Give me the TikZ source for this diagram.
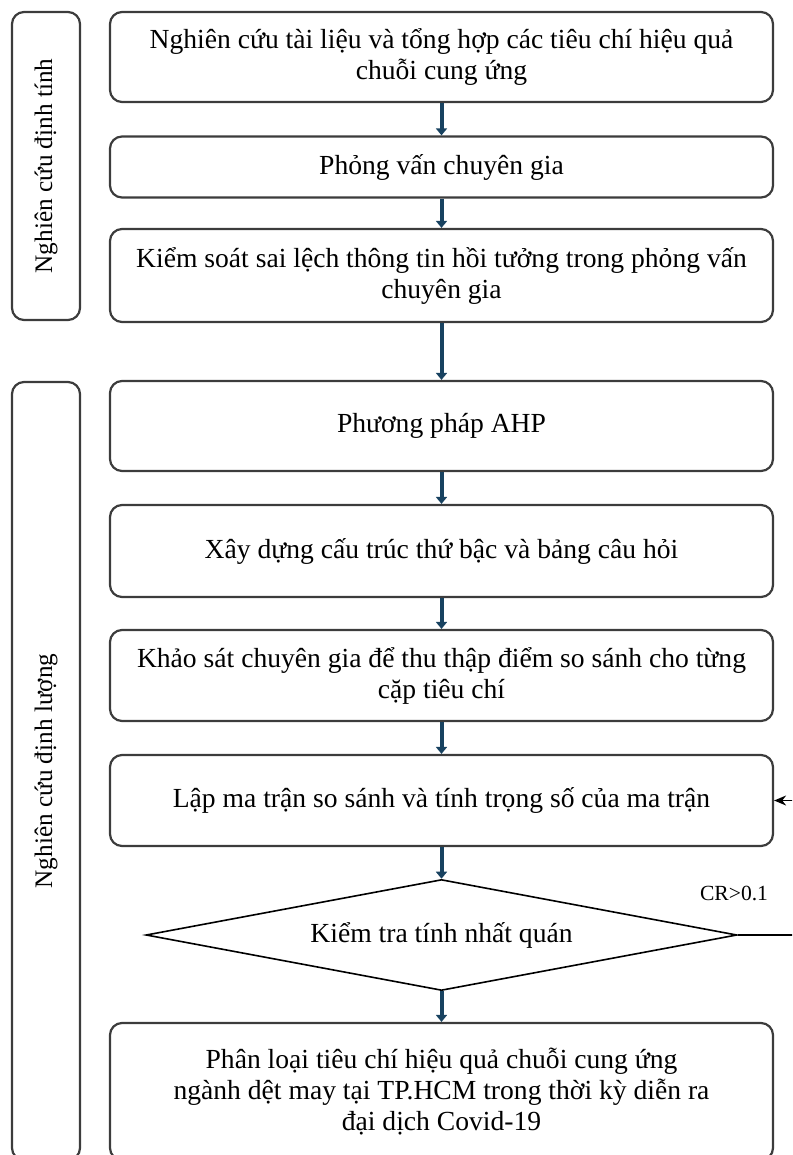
\documentclass[tikz,border=0pt]{standalone}
\usepackage{fontspec}
\setmainfont{Liberation Serif}
\usetikzlibrary{arrows.meta,shapes.geometric}

\definecolor{flowblue}{RGB}{24,66,96}
\definecolor{edgegray}{RGB}{60,60,60}

\begin{document}
\begin{tikzpicture}[x=0.5pt,y=-0.5pt,
  stagebox/.style={draw=edgegray,line width=1.1pt,rounded corners=6pt,minimum width=331.5pt,align=center,inner sep=2pt,font=\fontsize{13.8}{15.5}\selectfont},
  sidebox/.style={draw=edgegray,line width=1.1pt,rounded corners=6pt,rotate=90,minimum height=34pt,inner sep=0pt,font=\fontsize{12.6}{15}\selectfont},
  checkbox/.style={draw=black,line width=0.8pt,shape=diamond,aspect=6,minimum width=295.5pt,minimum height=55.5pt,inner sep=0pt,font=\fontsize{13.8}{15.5}\selectfont},
  flow/.style={flowblue,line width=2pt,-{Triangle[width=5.5pt,length=3.5pt]}},
  back/.style={black,line width=0.8pt,-{Stealth[length=6pt,width=5pt]}}]

\useasboundingbox (0,0) rectangle (792,1155);
\clip (0,0) rectangle (792,1155);

%side labels
\node[sidebox,minimum width=154pt] (qual) at (46,166) {Nghiên cứu định tính};
\node[sidebox,minimum width=389pt] (quant) at (46,771) {Nghiên cứu định lượng};

%qualitative steps
\node[stagebox,minimum height=45pt] (lit) at (441.5,57) {Nghiên cứu tài liệu và tổng hợp các tiêu chí hiệu quả\\chuỗi cung ứng};
\node[stagebox,minimum height=30.5pt] (intv) at (441.5,167) {Phỏng vấn chuyên gia};
\node[stagebox,minimum height=46.5pt] (bias) at (441.5,275.5) {Kiểm soát sai lệch thông tin hồi tưởng trong phỏng vấn\\chuyên gia};

%quantitative steps
\node[stagebox,minimum height=45pt] (ahp) at (441.5,426) {Phương pháp AHP};
\node[stagebox,minimum height=46pt] (hier) at (441.5,551) {Xây dựng cấu trúc thứ bậc và bảng câu hỏi};
\node[stagebox,minimum height=45.5pt] (survey) at (441.5,675.5) {Khảo sát chuyên gia để thu thập điểm so sánh cho từng\\cặp tiêu chí};
\node[stagebox,minimum height=45.5pt] (matrix) at (441.5,800.5) {Lập ma trận so sánh và tính trọng số của ma trận};
\node[checkbox] (check) at (441.5,935) {Kiểm tra tính nhất quán};
\node[stagebox,minimum height=68.5pt] (result) at (441.5,1091.5) {Phân loại tiêu chí hiệu quả chuỗi cung ứng\\ngành dệt may tại TP.HCM trong thời kỳ diễn ra\\đại dịch Covid-19};

%flow arrows
\draw[flow] (lit.south) -- (intv.north);
\draw[flow] (intv.south) -- (bias.north);
\draw[flow] (bias.south) -- (ahp.north);
\draw[flow] (ahp.south) -- (hier.north);
\draw[flow] (hier.south) -- (survey.north);
\draw[flow] (survey.south) -- (matrix.north);
\draw[flow] (matrix.south) -- (check.north);
\draw[flow] (check.south) -- (result.north);

%loop back when inconsistent
\coordinate (loop) at (797,935);
\draw[back] (check.east) -- (loop) |- (matrix.east);
\node[font=\fontsize{10.8}{12}\selectfont] (crlabel) at (734,893) {CR>0.1};

\end{tikzpicture}
\end{document}
